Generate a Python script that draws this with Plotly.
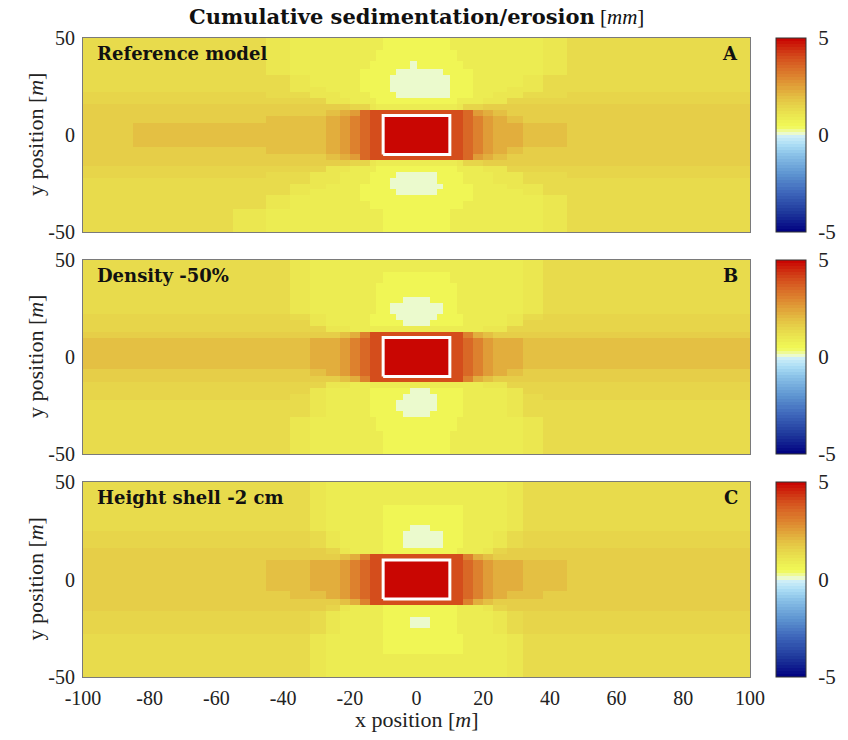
import numpy as np
import plotly.graph_objects as go

# ---------------------------------------------------------------------------
# Model grid: cell edges [m]
# ---------------------------------------------------------------------------
X_EDGES = [-100, -85, -70, -55, -45, -38, -32, -27, -23, -20, -17, -14, -12, -10,
           -8, -6, -4, -2, 0, 2, 4, 6, 8, 10,
           12, 14, 17, 20, 23, 27, 32, 38, 45, 55, 70, 85, 100]
# rows are listed from the top (y = 50) to the bottom (y = -50)
Y_EDGES_TOP_DOWN = [50, 44, 38, 34, 31, 28, 25, 22, 19, 16, 13, 10, 6, 2,
                    -2, -6, -10, -13, -16, -19, -22, -25, -28, -31, -34, -38, -44, -50]

# Sedimentation classes [mm] used in the maps below
LEVEL_CODES = list("pylmbcdefghijr")
LEVEL_VALUES = [0.05, 0.55, 0.85, 1.05, 1.3, 1.45, 1.7, 1.95, 2.25, 2.6, 3.0, 3.5, 4.0, 5.0]

# Cumulative sedimentation/erosion maps (one character per grid cell)
MAP_A = [
    "bbbbmllllllllyyyyyyyyyyllllllllmbbbb",
    "bbbbmlllllllyyyyyyyyyyyylllllllmbbbb",
    "bbbbmllllllyyyyyypyyyyyyyllllllmbbbb",
    "bbbbmlllllyyyyypppppppyyyylllllmbbbb",
    "bbbbbmllllyyyypppppppppyyyllllmbbbbb",
    "bbbbbmllllyyyypppppppppyyyllllmbbbbb",
    "bbbbbmmlllyyyypppppppppyyylllmmbbbbb",
    "ccccbbmmlllyyyyppppppppyyyllmmbbcccc",
    "cccccccmmlllyyyyyyyyyyyylllmmccccccc",
    "dddddddddccmllllllllllllmccddddddddd",
    "dddddddefgijjjjjjjjjjjjjjigfeddddddd",
    "ddddeeefghijjrrrrrrrrrrjjihgfedddddd",
    "deeeeeefghijjrrrrrrrrrrjjihgffeedddd",
    "deeeeeefghijjrrrrrrrrrrjjihgffeedddd",
    "deeeeeefghijjrrrrrrrrrrjjihgffeedddd",
    "ddddeeefghijjrrrrrrrrrrjjihgfedddddd",
    "dddddddefgijjjjjjjjjjjjjjigfeddddddd",
    "dddddddddccmllllllllllllmccddddddddd",
    "cccccccmmlllyyyyyyyyyyyylllmmccccccc",
    "ccccbbmmlllyyyyppppppyyyylllmmbbcccc",
    "bbbbbbmmlllyyypppppppyyyylllmmbbbbbb",
    "bbbbbmmlllyyyyppppppppyyyylllmmbbbbb",
    "bbbbbmllllyyyyyppppppyyyyyllllmbbbbb",
    "bbbbmlllllyyyyyyyyyyyyyyyylllllmbbbb",
    "bbbbmllllllyyyyyyyyyyyyyyllllllmbbbb",
    "bbbmlllllllllyyyyyyyyyyllllllllmbbbb",
    "bbbmlllllllllyyyyyyyyyyllllllllmbbbb",
]

MAP_B = [
    "bbbbbm" + "l" * 24 + "mbbbbb",
    "bbbbbm" + "l" * 7 + "y" * 10 + "l" * 7 + "mbbbbb",
    "bbbbbm" + "l" * 6 + "y" * 12 + "l" * 6 + "mbbbbb",
    "bbbbbm" + "l" * 6 + "y" * 12 + "l" * 6 + "mbbbbb",
    "bbbbbm" + "l" * 6 + "yyyy" + "pppp" + "yyyy" + "l" * 6 + "mbbbbb",
    "bbbbbm" + "l" * 6 + "yy" + "p" * 8 + "yy" + "l" * 6 + "mbbbbb",
    "bbbbbm" + "l" * 6 + "yy" + "p" * 8 + "yy" + "l" * 6 + "mbbbbb",
    "cccccbmllllyyyyppppppyyyyllllmbccccc",
    "ccccccmllllyyyyyppppyyyyyllllmcccccc",
    "ccccccc" + "mm" + "l" * 18 + "mm" + "ccccccc",
    "d" * 8 + "efh" + "j" * 14 + "hfe" + "d" * 8,
    "eeeeeeffghijjrrrrrrrrrrjjihgffeeeeee",
    "eeeeeeffghijjrrrrrrrrrrjjihgffeeeeee",
    "eeeeeeffghijjrrrrrrrrrrjjihgffeeeeee",
    "eeeeeeffghijjrrrrrrrrrrjjihgffeeeeee",
    "ddddddefghijjrrrrrrrrrrjjihgfedddddd",
    "d" * 8 + "efh" + "j" * 14 + "hfe" + "d" * 8,
    "ccccccc" + "mm" + "l" * 18 + "mm" + "ccccccc",
    "ccccccmllllyyyyyypppyyyyyllllmcccccc",
    "cccccbmllllyyyyypppppyyyyllllmbccccc",
    "bbbbbbmllllyyyyppppppyyyyllllmbbbbbb",
    "bbbbbbmllllyyyyppppppyyyyllllmbbbbbb",
    "bbbbbbmllllyyyyyppppyyyyyllllmbbbbbb",
    "bbbbbm" + "l" * 6 + "y" * 12 + "l" * 6 + "mbbbbb",
    "bbbbbm" + "l" * 6 + "y" * 12 + "l" * 6 + "mbbbbb",
    "bbbbbm" + "l" * 7 + "y" * 10 + "l" * 7 + "mbbbbb",
    "bbbbbm" + "l" * 7 + "y" * 10 + "l" * 7 + "mbbbbb",
]

MAP_C = [
    "bbbbbbm" + "l" * 22 + "mbbbbbb",
    "bbbbbbm" + "l" * 22 + "mbbbbbb",
    "bbbbbbmllllllyyyyyyyyyyyyllllmbbbbbb",
    "bbbbbbmllllllyyyyyyyyyyyyllllmbbbbbb",
    "bbbbbbmllllllyyyyyyyyyyyyllllmbbbbbb",
    "bbbbbbmllllllyyyypppyyyyyllllmbbbbbb",
    "ccccccbmlllllyyyppppppyyylllmbcccccc",
    "ccccccbmlllllyyyppppppyyylllmbcccccc",
    "ccccccbmlllllyyyppppppyyylllmbcccccc",
    "dddddddcmllllyyyyyyyyyyylllmcddddddd",
    "d" * 8 + "efh" + "j" * 14 + "hfe" + "d" * 8,
    "ddddeeffghijjrrrrrrrrrrjjihgffeedddd",
    "ddddeeffghijjrrrrrrrrrrjjihgffeedddd",
    "ddddeeffghijjrrrrrrrrrrjjihgffeedddd",
    "ddddeeffghijjrrrrrrrrrrjjihgffeedddd",
    "dddddeefghijjrrrrrrrrrrjjihgfeeddddd",
    "d" * 8 + "efh" + "j" * 14 + "hfe" + "d" * 8,
    "dddddddcmllllyyyyyyyyyyylllmcddddddd",
    "ccccccbmlllllyyyyyyyyyyyllllmbcccccc",
    "ccccccbmlllllyyyypppyyyyllllmbcccccc",
    "ccccccbmlllllyyyypppyyyyllllmbcccccc",
    "ccccccbmlllllyyyyyyyyyyyllllmbcccccc",
    "bbbbbbmllllllyyyyyyyyyyyyllllmbbbbbb",
    "bbbbbbmllllllyyyyyyyyyyyyllllmbbbbbb",
    "bbbbbbmllllllyyyyyyyyyyyyllllmbbbbbb",
    "bbbbbbm" + "l" * 22 + "mbbbbbb",
    "bbbbbbm" + "l" * 22 + "mbbbbbb",
]

PANEL_MAPS = [MAP_A, MAP_B, MAP_C]
PANEL_NAMES = ["Reference model", "Density -50%", "Height shell -2 cm"]
PANEL_LETTERS = ["A", "B", "C"]

# Shell structure footprint [m]
SHELL_X = [-10, 10]
SHELL_Y = [-10, 10]

X_TICKS = [-100, -80, -60, -40, -20, 0, 20, 40, 60, 80, 100]
Y_TICKS = [-50, 0, 50]
CBAR_TICKS = [-5, 0, 5]
Z_MIN, Z_MAX = -5, 5

# ---------------------------------------------------------------------------
# Diverging colour map (64 discrete steps, blue = erosion, red = sedimentation)
# ---------------------------------------------------------------------------
CMAP_VALUES = [-5, -4, -3, -2, -1, -0.5, -0.08, 0.0, 0.16, 0.32, 0.5, 1.0,
               1.5, 2.0, 2.5, 3.0, 3.5, 4.0, 4.5, 5.0]
CMAP_RGB = [(0, 0, 128), (30, 55, 155), (60, 100, 185), (95, 150, 210),
            (140, 195, 232), (172, 222, 245), (205, 238, 248), (232, 250, 225),
            (238, 250, 185), (240, 250, 105), (240, 248, 86), (235, 232, 80),
            (231, 212, 74), (228, 190, 66), (225, 160, 56), (221, 132, 47),
            (217, 105, 38), (212, 76, 28), (206, 40, 14), (200, 0, 0)]

n_steps = 64
step_edges = np.linspace(Z_MIN, Z_MAX, n_steps + 1)
step_mid = 0.5 * (step_edges[:-1] + step_edges[1:])
rgb = np.array(CMAP_RGB, dtype=float)
colorscale = []
for i, v in enumerate(step_mid):
    c = [int(round(np.interp(v, CMAP_VALUES, rgb[:, k]))) for k in range(3)]
    col = f"rgb({c[0]},{c[1]},{c[2]})"
    colorscale.append([i / n_steps, col])
    colorscale.append([(i + 1) / n_steps, col])

# ---------------------------------------------------------------------------
# Layout helpers (pixel positions on an 848 x 740 page)
# ---------------------------------------------------------------------------
W, H = 848, 740
M_L, M_R, M_T, M_B = 0, 0, 0, 0
PLOT_LEFT, PLOT_RIGHT = 83, 750
PANEL_ROWS = [(38, 232), (260, 454), (482, 677)]
CBAR_LEFT, CBAR_WIDTH = 776, 30

SERIF = "Liberation Serif"
BOLD_SERIF = "DejaVu Serif"
TICK_SIZE = 20


def fx(p):
    return (p - M_L) / (W - M_L - M_R)


def fy(p):
    return 1 - (p - M_T) / (H - M_T - M_B)


level_of = dict(zip(LEVEL_CODES, LEVEL_VALUES))
y_edges = Y_EDGES_TOP_DOWN[::-1]

fig = go.Figure()
annotations = []

for k, (rows, name, letter) in enumerate(zip(PANEL_MAPS, PANEL_NAMES, PANEL_LETTERS)):
    z = [[level_of[ch] for ch in row] for row in rows][::-1]
    top, bot = PANEL_ROWS[k]
    xa = "x" if k == 0 else f"x{k + 1}"
    ya = "y" if k == 0 else f"y{k + 1}"

    fig.add_trace(go.Heatmap(
        x=X_EDGES, y=y_edges, z=z,
        zmin=Z_MIN, zmax=Z_MAX, colorscale=colorscale,
        xaxis=xa, yaxis=ya, hoverinfo="skip",
        colorbar=dict(
            x=fx(CBAR_LEFT), xanchor="left", xpad=0,
            y=fy(bot), yanchor="bottom", ypad=0,
            len=fy(top) - fy(bot), lenmode="fraction",
            thickness=CBAR_WIDTH, thicknessmode="pixels",
            outlinewidth=1, outlinecolor="#333333",
            tickmode="array", tickvals=CBAR_TICKS,
            ticktext=[str(t) for t in CBAR_TICKS],
            ticks="outside", ticklen=8, tickcolor="rgba(0,0,0,0)",
            tickfont=dict(family=SERIF, size=21, color="#222222"),
        ),
    ))

    # shell outline
    fig.add_trace(go.Scatter(
        x=[SHELL_X[0], SHELL_X[1], SHELL_X[1], SHELL_X[0], SHELL_X[0]],
        y=[SHELL_Y[0], SHELL_Y[0], SHELL_Y[1], SHELL_Y[1], SHELL_Y[0]],
        mode="lines", line=dict(color="white", width=3),
        xaxis=xa, yaxis=ya, showlegend=False, hoverinfo="skip",
    ))

    axis_common = dict(showline=True, linecolor="#7a7a7a", linewidth=1, mirror=True,
                       showgrid=False, zeroline=False, ticks="", automargin=False,
                       tickfont=dict(family=SERIF, size=TICK_SIZE, color="#222222"))
    fig.layout[f"xaxis{'' if k == 0 else k + 1}"] = dict(
        domain=[fx(PLOT_LEFT), fx(PLOT_RIGHT)], range=[-100, 100],
        anchor=ya, tickmode="array", tickvals=X_TICKS,
        ticktext=[str(t) for t in X_TICKS], showticklabels=(k == 2),
        ticklabelstandoff=3, **axis_common)
    fig.layout[f"yaxis{'' if k == 0 else k + 1}"] = dict(
        domain=[fy(bot), fy(top)], range=[-50, 50],
        anchor=xa, tickmode="array", tickvals=Y_TICKS,
        ticktext=[str(t) for t in Y_TICKS], ticklabelstandoff=3, **axis_common)

    # panel name and letter
    annotations.append(dict(
        xref="paper", yref="paper", x=fx(95), y=fy(top + 15),
        xanchor="left", yanchor="middle", showarrow=False,
        text=f"<b>{name}</b>", font=dict(family=BOLD_SERIF, size=18, color="#111111")))
    annotations.append(dict(
        xref="paper", yref="paper", x=fx(740), y=fy(top + 15),
        xanchor="right", yanchor="middle", showarrow=False,
        text=f"<b>{letter}</b>", font=dict(family=BOLD_SERIF, size=18, color="#111111")))
    # y-axis label
    annotations.append(dict(
        xref="paper", yref="paper", x=fx(35), y=fy((top + bot) / 2),
        xanchor="center", yanchor="middle", showarrow=False, textangle=-90,
        text="y position [<i>m</i>]", font=dict(family=SERIF, size=22, color="#222222")))

annotations.append(dict(
    xref="paper", yref="paper", x=fx(416), y=fy(17),
    xanchor="center", yanchor="middle", showarrow=False,
    text=("<span style='font-family:DejaVu Serif'><b>Cumulative sedimentation/erosion</b></span>"
          " [<i>mm</i>]"),
    font=dict(family=SERIF, size=21, color="#111111")))
annotations.append(dict(
    xref="paper", yref="paper", x=fx(416), y=fy(719),
    xanchor="center", yanchor="middle", showarrow=False,
    text="x position [<i>m</i>]",
    font=dict(family=SERIF, size=22, color="#222222")))

fig.update_layout(
    template="none",
    width=W, height=H,
    margin=dict(l=M_L, r=M_R, t=M_T, b=M_B, autoexpand=False),
    paper_bgcolor="white", plot_bgcolor="white",
    showlegend=False,
    annotations=annotations,
)

fig.write_html("out.html")
